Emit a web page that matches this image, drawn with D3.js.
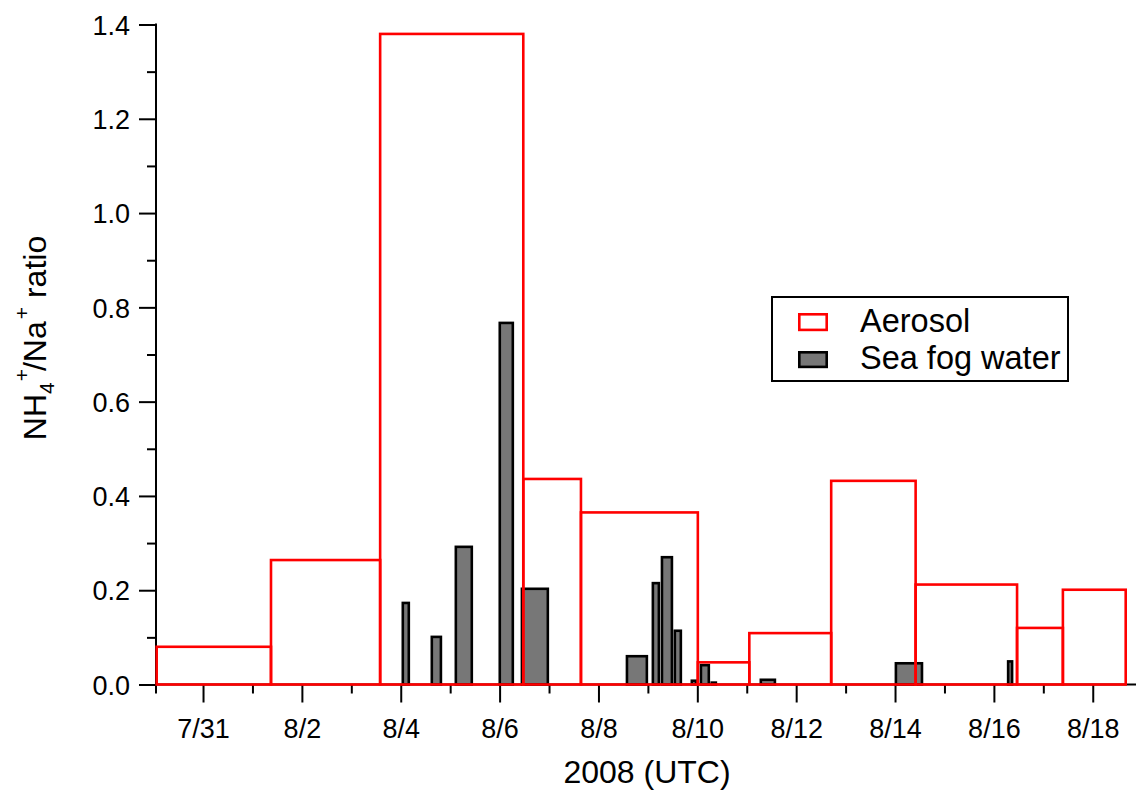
<!DOCTYPE html>
<html>
<head>
<meta charset="utf-8">
<script src="https://cdn.jsdelivr.net/npm/d3@7/dist/d3.min.js"></script>
<style>
  html, body { margin: 0; padding: 0; background: #fff; }
  svg { display: block; }
  text { font-family: "Liberation Sans", Arial, Helvetica, sans-serif; fill: #000; }
</style>
</head>
<body>
<svg id="chart" width="1136" height="792"></svg>
<script>
// ---- data ----
const aerosolStart = ["2008-07-30 01:30","2008-08-01 09:00","2008-08-03 14:00","2008-08-06 11:30","2008-08-07 15:30","2008-08-10 00:15","2008-08-11 01:15","2008-08-12 17:00","2008-08-14 10:00","2008-08-16 11:15","2008-08-17 09:30"];
const aerosolEnd   = ["2008-08-01 09:00","2008-08-03 14:00","2008-08-06 11:30","2008-08-07 15:30","2008-08-10 00:15","2008-08-11 01:15","2008-08-12 17:00","2008-08-14 10:00","2008-08-16 11:15","2008-08-17 09:30","2008-08-18 16:00"];
const aerosolRatio = [0.080, 0.264, 1.380, 0.436, 0.365, 0.047, 0.109, 0.432, 0.212, 0.120, 0.201];

const fogStart = ["2008-08-04 01:00","2008-08-04 15:05","2008-08-05 02:45","2008-08-06 00:05","2008-08-06 10:50","2008-08-08 13:50","2008-08-09 02:25","2008-08-09 06:50","2008-08-09 13:05","2008-08-09 21:20","2008-08-10 01:45","2008-08-10 07:00","2008-08-11 06:50","2008-08-14 00:25","2008-08-16 06:55"];
const fogEnd   = ["2008-08-04 03:55","2008-08-04 19:30","2008-08-05 10:30","2008-08-06 06:25","2008-08-06 23:25","2008-08-08 23:30","2008-08-09 05:20","2008-08-09 11:40","2008-08-09 16:00","2008-08-09 23:20","2008-08-10 05:35","2008-08-10 09:00","2008-08-11 13:40","2008-08-14 13:05","2008-08-16 08:50"];
const fogRatio = [0.173, 0.101, 0.292, 0.767, 0.203, 0.060, 0.215, 0.270, 0.114, 0.008, 0.041, 0.004, 0.010, 0.045, 0.049];

const xMajorLabels = ["7/31","8/2","8/4","8/6","8/8","8/10","8/12","8/14","8/16","8/18"];
const xMinorLabels = ["8/1","8/3","8/5","8/7","8/9","8/11","8/13","8/15","8/17"];
const yMajorTicks = [0.0, 0.2, 0.4, 0.6, 0.8, 1.0, 1.2, 1.4];
const yMinorTicks = [0.1, 0.3, 0.5, 0.7, 0.9, 1.1, 1.3];
const xDomain = ["2008-07-30 01:10", "2008-08-18 21:00"];
const yDomain = [0, 1.4];
const legendLabels = ["Aerosol", "Sea fog water"];

// ---- setup ----
const parseT = d3.timeParse("%Y-%m-%d %H:%M");
const parseLabel = s => d3.timeParse("%Y/%m/%d")("2008/" + s);
const svg = d3.select("#chart");

const x = d3.scaleTime().domain(xDomain.map(parseT)).range([156, 1136]);
const y = d3.scaleLinear().domain(yDomain).range([684.5, 24.5]);

const RED = "#ff0000", GRAY = "#777777";

// fog water bars (underneath)
const fog = fogStart.map((s, i) => ({ s: parseT(s), e: parseT(fogEnd[i]), v: fogRatio[i] }));
svg.append("g").selectAll("rect").data(fog).join("rect")
  .attr("x", d => x(d.s))
  .attr("width", d => Math.max(0.5, x(d.e) - x(d.s)))
  .attr("y", d => y(d.v))
  .attr("height", d => y(0) - y(d.v))
  .attr("fill", GRAY)
  .attr("stroke", "#000")
  .attr("stroke-width", 2.6);

// axes
const xMajor = xMajorLabels.map(parseLabel);
const xMinor = xMinorLabels.map(parseLabel);

const gx = svg.append("g").attr("transform", `translate(0,${y(0)})`);
gx.call(d3.axisBottom(x).tickValues(xMinor).tickSize(9).tickSizeOuter(0).tickFormat(""));
gx.call(g => g.select(".domain").remove());
const gx2 = svg.append("g").attr("transform", `translate(0,${y(0)})`);
gx2.call(d3.axisBottom(x).tickValues(xMajor).tickSize(18).tickSizeOuter(0)
  .tickFormat((d, i) => xMajorLabels[i]).tickPadding(14));
gx2.select(".domain").remove();
svg.selectAll("g.tick line").attr("stroke", "#000").attr("stroke-width", 2);
gx2.selectAll(".tick text").attr("font-size", 27).attr("font-family", "Liberation Sans, Arial, sans-serif")
  .attr("dy", null).attr("y", 53.5).attr("fill", "#000");

const gy = svg.append("g").attr("transform", `translate(156,0)`);
gy.call(d3.axisLeft(y).tickValues(yMinorTicks).tickSize(9).tickSizeOuter(0).tickFormat(""));
gy.select(".domain").remove();
const gy2 = svg.append("g").attr("transform", `translate(156,0)`);
gy2.call(d3.axisLeft(y).tickValues(yMajorTicks).tickSize(17).tickSizeOuter(0)
  .tickFormat(d3.format(".1f")).tickPadding(9));
gy2.select(".domain").remove();
svg.selectAll("g.tick line").attr("stroke", "#000").attr("stroke-width", 2);
gy2.selectAll(".tick text").attr("font-size", 27).attr("font-family", "Liberation Sans, Arial, sans-serif")
  .attr("dy", "0.36em").attr("fill", "#000");

// axis lines
svg.append("line").attr("x1", x.range()[0]).attr("x2", x.range()[1])
  .attr("y1", y(0)).attr("y2", y(0)).attr("stroke", "#000").attr("stroke-width", 2);
svg.append("line").attr("x1", 156).attr("x2", 156)
  .attr("y1", y(1.4) - 1).attr("y2", y(0) + 9).attr("stroke", "#000").attr("stroke-width", 2);

// aerosol boxes (on top)
const aer = aerosolStart.map((s, i) => ({ s: parseT(s), e: parseT(aerosolEnd[i]), v: aerosolRatio[i] }));
svg.append("g").selectAll("rect").data(aer).join("rect")
  .attr("x", d => x(d.s))
  .attr("width", d => x(d.e) - x(d.s))
  .attr("y", d => y(d.v))
  .attr("height", d => y(0) - y(d.v))
  .attr("fill", "none")
  .attr("stroke", RED)
  .attr("stroke-width", 2.6);

// axis titles
svg.append("text").attr("x", 647).attr("y", 783).attr("text-anchor", "middle")
  .attr("font-size", 32).text("2008 (UTC)");

const yt = svg.append("text").attr("transform", "translate(46,338) rotate(-90)")
  .attr("text-anchor", "middle").attr("font-size", 32);
yt.append("tspan").text("NH");
yt.append("tspan").attr("font-size", 21).attr("dy", 8).text("4");
yt.append("tspan").attr("font-size", 21).attr("dy", -25).attr("dx", 1).text("+");
yt.append("tspan").attr("dy", 17).attr("dx", -2).text("/Na");
yt.append("tspan").attr("font-size", 21).attr("dy", -17).attr("dx", 2).text("+");
yt.append("tspan").attr("dy", 17).text(" ratio");

// legend
const lg = svg.append("g");
lg.append("rect").attr("x", 772).attr("y", 297).attr("width", 296).attr("height", 84)
  .attr("fill", "#fff").attr("stroke", "#000").attr("stroke-width", 2);
lg.append("rect").attr("x", 799.3).attr("y", 314.3).attr("width", 27.4).attr("height", 15.6)
  .attr("fill", "none").attr("stroke", RED).attr("stroke-width", 2.6);
lg.append("rect").attr("x", 799.3).attr("y", 352.3).attr("width", 27.4).attr("height", 14.6)
  .attr("fill", GRAY).attr("stroke", "#000").attr("stroke-width", 2.6);
lg.append("text").attr("x", 860).attr("y", 332).attr("font-size", 32.5).text(legendLabels[0]);
lg.append("text").attr("x", 860).attr("y", 369).attr("font-size", 32.5).text(legendLabels[1]);
</script>
</body>
</html>
